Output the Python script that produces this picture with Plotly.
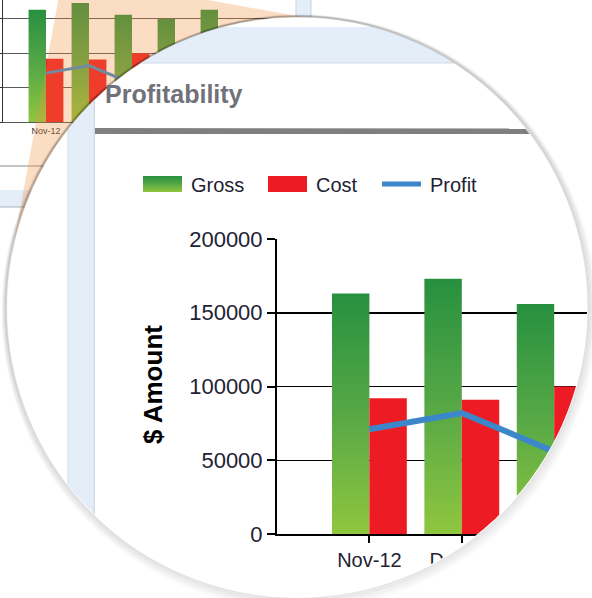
import math
import plotly.graph_objects as go

# ---------------- data ----------------
months = ["Nov-12", "Dec-12", "Jan-13", "Feb-13", "Mar-13"]
gross = [163000, 173000, 156000, 150000, 163000]
cost = [92000, 91000, 100000, 95000, 98000]
profit = [71000, 82000, 56000, 55000, 65000]
y_tick_vals = [0, 50000, 100000, 150000, 200000]
y_tick_text = ["0", "50000", "100000", "150000", "200000"]
legend_names = ["Gross", "Cost", "Profit"]
title_text = "Profitability"
y_title = "$ Amount"

# ---------------- styles / geometry ----------------
W, H = 592, 598
CX, CY, R = 297.0, 307.0, 290.0
GREEN = "rgb(77,155,58)"          # replaced by a vertical gradient in post_script
RED = "#ed1c24"
BLUE = "#3b87c9"
PEACH = "rgba(242,142,58,0.30)"
LIGHTBLUE = "#e4eef8"
FONT = "Liberation Sans, Arial, sans-serif"


def circle_pts(cx, cy, r, n=360):
    return [(cx + r * math.cos(2 * math.pi * i / n), cy + r * math.sin(2 * math.pi * i / n)) for i in range(n)]


CIRCLE = circle_pts(CX, CY, R)


def clip_to_circle(subject):
    def inside(p, a, b):
        return (b[0] - a[0]) * (p[1] - a[1]) - (b[1] - a[1]) * (p[0] - a[0]) >= 0

    def inter(p, q, a, b):
        x1, y1 = p; x2, y2 = q; x3, y3 = a; x4, y4 = b
        den = (x1 - x2) * (y3 - y4) - (y1 - y2) * (x3 - x4)
        t = ((x1 - x3) * (y3 - y4) - (y1 - y3) * (x3 - x4)) / den
        return (x1 + t * (x2 - x1), y1 + t * (y2 - y1))

    out = list(subject)
    n = len(CIRCLE)
    for i in range(n):
        a, b = CIRCLE[i], CIRCLE[(i + 1) % n]
        inp, out = out, []
        if not inp:
            break
        s = inp[-1]
        for e in inp:
            if inside(e, a, b):
                if not inside(s, a, b):
                    out.append(inter(s, e, a, b))
                out.append(e)
            elif inside(s, a, b):
                out.append(inter(s, e, a, b))
            s = e
    return out


def rect(x0, y0, x1, y1):
    return [(x0, y0), (x1, y0), (x1, y1), (x0, y1)]


def poly_trace(pts, color):
    xs = [p[0] for p in pts] + [pts[0][0]]
    ys = [p[1] for p in pts] + [pts[0][1]]
    return go.Scatter(x=xs, y=ys, mode="lines", fill="toself", fillcolor=color,
                      line=dict(width=0, color="rgba(0,0,0,0)"), hoverinfo="skip",
                      showlegend=False, xaxis="x2", yaxis="y2")


fig = go.Figure()

# ---------- small (background) chart : xy ----------
fig.add_trace(go.Bar(x=months, y=gross, name=legend_names[0], marker=dict(color=GREEN, line=dict(width=0)),
                     xaxis="x", yaxis="y", showlegend=False))
fig.add_trace(go.Bar(x=months, y=cost, name=legend_names[1], marker=dict(color=RED, line=dict(width=0)),
                     xaxis="x", yaxis="y", showlegend=False))
fig.add_trace(go.Scatter(x=months, y=profit, name=legend_names[2], mode="lines", line=dict(color=BLUE, width=3),
                         xaxis="x", yaxis="y", showlegend=False))

# ---------- decoration layer : x2y2 (pixel coordinates) ----------
ax_, ay_ = 63.0, -26.0
d = math.hypot(ax_ - CX, ay_ - CY)
phi = math.atan2(ay_ - CY, ax_ - CX)
th = math.acos(R / d)
tl = (CX + R * math.cos(phi - th), CY + R * math.sin(phi - th))
fig.add_trace(poly_trace([(ax_, ay_), tl, (330.0, 22.0)], PEACH))
fig.add_trace(poly_trace(CIRCLE, "white"))
fig.add_trace(poly_trace(clip_to_circle(rect(0, 27, W, 63)), LIGHTBLUE))
fig.add_trace(poly_trace(clip_to_circle(rect(0, 62.5, W, 63.5)), "#d3dce6"))
fig.add_trace(poly_trace(clip_to_circle(rect(68, 63, 94, H)), LIGHTBLUE))
fig.add_trace(poly_trace(clip_to_circle(rect(67.5, 63, 68.5, H)), "#d6dee7"))
fig.add_trace(poly_trace(clip_to_circle(rect(93.5, 63, 95, H)), "#d3dae3"))
fig.add_trace(poly_trace(clip_to_circle(rect(95, 128, W, 134)), "#7f7f7f"))

# ---------- main magnified chart : x3y3 ----------
fig.add_trace(go.Bar(x=months, y=gross, name=legend_names[0], marker=dict(color=GREEN, line=dict(width=0)),
                     xaxis="x3", yaxis="y3", showlegend=False))
fig.add_trace(go.Bar(x=months, y=cost, name=legend_names[1], marker=dict(color=RED, line=dict(width=0)),
                     xaxis="x3", yaxis="y3", showlegend=False))
fig.add_trace(go.Scatter(x=months, y=profit, name=legend_names[2], mode="lines", line=dict(color=BLUE, width=6),
                         xaxis="x3", yaxis="y3", showlegend=False))

shapes = []
# pieces of the underlying window visible outside the lens (below traces of x2y2)
shapes.append(dict(type="line", xref="x2", yref="y2", x0=0, x1=120, y0=166, y1=166,
                   line=dict(color="#8a8a8a", width=1), layer="below"))
shapes.append(dict(type="rect", xref="x2", yref="y2", x0=-2, x1=120, y0=190, y1=207,
                   fillcolor=LIGHTBLUE, line=dict(width=0), layer="below"))
shapes.append(dict(type="line", xref="x2", yref="y2", x0=0, x1=120, y0=207, y1=207,
                   line=dict(color="#a9b2bb", width=1), layer="below"))
shapes.append(dict(type="rect", xref="x2", yref="y2", x0=296, x1=311, y0=-2, y1=40,
                   fillcolor=LIGHTBLUE, line=dict(color="#c9d3dd", width=1), layer="below"))

# mask outside the lens on the right and bottom
t0 = -math.acos((340 - CX) / R)
arc = []
steps = 400
for i in range(steps + 1):
    t = t0 + (math.pi - t0) * i / steps
    arc.append((CX + R * math.cos(t), CY + R * math.sin(t)))
path = "M 340,-5 " + " ".join("L %.2f,%.2f" % p for p in arc) + " L -5,%.1f L -5,%d L %d,%d L %d,-5 Z" % (CY, H + 5, W + 5, H + 5, W + 5)
shapes.append(dict(type="path", xref="x2", yref="y2", path=path, fillcolor="white",
                   line=dict(width=0), layer="above"))
# soft shadow around the lens
for k in range(1, 8):
    cxk, cyk, rk = CX + 0.3 * k, CY + 0.7 * k, R + k
    a = 0.11 * (1 - (k - 1) / 7.0)
    shapes.append(dict(type="circle", xref="x2", yref="y2", x0=cxk - rk, x1=cxk + rk, y0=cyk - rk, y1=cyk + rk,
                       line=dict(color="rgba(0,0,0,%.3f)" % a, width=1.6), fillcolor="rgba(0,0,0,0)",
                       layer="above"))
# legend swatches
shapes.append(dict(type="rect", xref="x2", yref="y2", x0=143, x1=182, y0=176, y1=192,
                   fillcolor=GREEN, line=dict(width=0), layer="above"))
shapes.append(dict(type="rect", xref="x2", yref="y2", x0=268, x1=307, y0=176, y1=192,
                   fillcolor=RED, line=dict(width=0), layer="above"))
shapes.append(dict(type="line", xref="x2", yref="y2", x0=382, x1=421, y0=184, y1=184,
                   line=dict(color=BLUE, width=5), layer="above"))

annotations = [
    dict(text=title_text, xref="x2", yref="y2", x=103, y=94, xanchor="left", yanchor="middle", showarrow=False,
         font=dict(family=FONT, size=25, color="#6f717b", weight="bold")),
    dict(text=legend_names[0], xref="x2", yref="y2", x=189, y=185, xanchor="left", yanchor="middle",
         showarrow=False, font=dict(family=FONT, size=20, color="#222233")),
    dict(text=legend_names[1], xref="x2", yref="y2", x=314, y=185, xanchor="left", yanchor="middle",
         showarrow=False, font=dict(family=FONT, size=20, color="#222233")),
    dict(text=legend_names[2], xref="x2", yref="y2", x=428, y=185, xanchor="left", yanchor="middle",
         showarrow=False, font=dict(family=FONT, size=20, color="#222233")),
    dict(text=y_title, xref="x2", yref="y2", x=153, y=385, xanchor="center", yanchor="middle",
         textangle=-90, showarrow=False, font=dict(family=FONT, size=26, color="#000000", weight="bold")),
]

small_range_top = 177300
main_left = 277.0
cat_px = 92.4

fig.update_layout(
    template="none",
    width=W, height=H, autosize=False,
    margin=dict(l=0, r=0, t=0, b=0, pad=0, autoexpand=False),
    paper_bgcolor="white", plot_bgcolor="rgba(0,0,0,0)",
    barmode="group", bargap=0.19, bargroupgap=0,
    showlegend=False,
    font=dict(family=FONT, color="#222"),
    shapes=shapes, annotations=annotations,
    xaxis=dict(domain=[3 / W, 297 / W], anchor="y", type="category", automargin=False,
               range=[-1, (297 - 3) / 43.0 - 1], showgrid=False, showline=True, linecolor="#555",
               linewidth=1, ticks="", tickfont=dict(size=9, color="#333"), fixedrange=True),
    yaxis=dict(domain=[1 - 122 / H, 1], anchor="x", range=[0, small_range_top], tickvals=y_tick_vals,
               automargin=False, showgrid=True, gridcolor="#5a5a5a", gridwidth=1, showline=True,
               linecolor="#333", linewidth=1, ticks="outside", ticklen=3, tickcolor="#333",
               showticklabels=False, zeroline=False, fixedrange=True),
    xaxis2=dict(domain=[0, 1], anchor="y2", range=[0, W], visible=False, automargin=False, fixedrange=True),
    yaxis2=dict(domain=[0, 1], anchor="x2", range=[H, 0], visible=False, automargin=False, fixedrange=True),
    xaxis3=dict(domain=[main_left / W, 1], anchor="y3", type="category", automargin=False,
                range=[-1, (W - main_left) / cat_px - 1], showgrid=False, showline=True,
                linecolor="black", linewidth=2, ticks="outside", ticklen=7, tickwidth=2,
                tickcolor="black", tickfont=dict(size=20, color="#222233"), fixedrange=True),
    yaxis3=dict(domain=[1 - 534 / H, 1 - 239 / H], anchor="x3", range=[0, 200000], automargin=False,
                tickvals=y_tick_vals, ticktext=y_tick_text, showgrid=True, gridcolor="black",
                gridwidth=1.5, showline=True, linecolor="black", linewidth=2, ticks="outside",
                ticklen=8, tickwidth=2, tickcolor="black", tickfont=dict(size=22, color="#222233"),
                zeroline=False, fixedrange=True),
)

post_js = """
(function(){
  var gd = document.getElementById('{plot_id}');
  document.documentElement.style.margin = '0';
  document.documentElement.style.padding = '0';
  document.documentElement.style.overflow = 'hidden';
  document.body.style.margin = '0';
  document.body.style.padding = '0';
  document.body.style.overflow = 'hidden';
  gd.style.position = 'fixed';
  gd.style.left = '0px';
  gd.style.top = '0px';
  gd.style.margin = '0';
  function apply(){
    var svg = gd.querySelector('svg.main-svg');
    if(!svg) return;
    var defs = svg.querySelector('defs');
    var ns = 'http://www.w3.org/2000/svg';
    if(defs && !document.getElementById('grossGrad')){
      var lg = document.createElementNS(ns, 'linearGradient');
      lg.setAttribute('id', 'grossGrad');
      lg.setAttribute('x1', '0'); lg.setAttribute('y1', '0');
      lg.setAttribute('x2', '0'); lg.setAttribute('y2', '1');
      [['0', '#27903f'], ['0.5', '#57a846'], ['1', '#8fc63f']].forEach(function(s){
        var st = document.createElementNS(ns, 'stop');
        st.setAttribute('offset', s[0]); st.setAttribute('stop-color', s[1]);
        lg.appendChild(st);
      });
      defs.appendChild(lg);
    }
    gd.querySelectorAll('path').forEach(function(p){
      var f = p.style.fill.replace(/\\s/g, '');
      if(f === 'rgb(77,155,58)'){ p.style.fill = 'url(#grossGrad)'; }
    });
  }
  apply();
  setTimeout(apply, 50);
  setTimeout(apply, 300);
  if(gd.on){ gd.on('plotly_afterplot', apply); }
})();
"""

fig.write_html("out.html", post_script=post_js, config={"displayModeBar": False, "staticPlot": True})
